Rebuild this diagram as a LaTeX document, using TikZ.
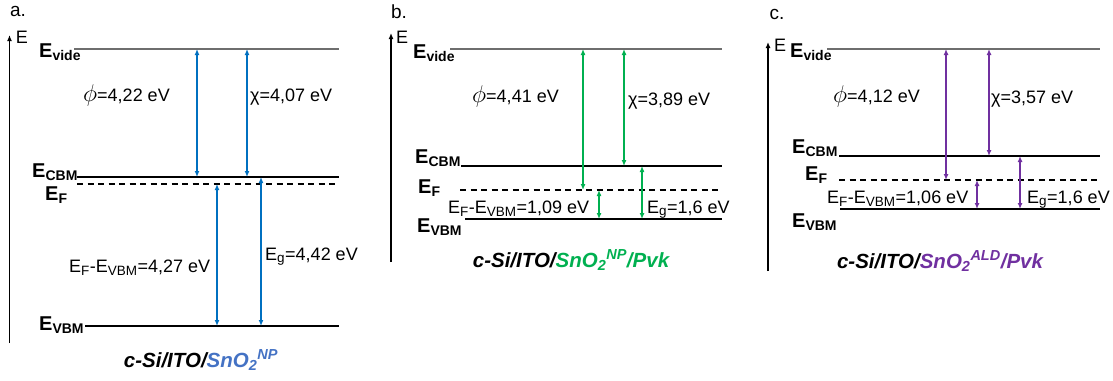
\documentclass[tikz,border=0pt]{standalone}
\usepackage{fontspec}
\setmainfont{Liberation Sans}
\usetikzlibrary{arrows.meta}
\DeclareMathSizes{18}{18}{13.5}{10}
\DeclareMathSizes{20.5}{20.5}{14.5}{11}
\definecolor{bluearr}{HTML}{0070C0}
\definecolor{bluecap}{HTML}{4472C4}
\definecolor{greenarr}{HTML}{00B050}
\definecolor{purplearr}{HTML}{7030A0}
\definecolor{vacgray}{HTML}{6E6E6E}
\newcommand{\wf}{\scalebox{1.4}{$\phi$}}

\begin{document}
\begin{tikzpicture}[x=1pt,y=-1pt,>={Latex[length=6pt,width=5pt]},
  vac/.style={line width=1.1pt,vacgray},
  level/.style={line width=1.3pt},
  fermi/.style={line width=1.3pt,dash pattern=on 6pt off 4.5pt},
  gap/.style={<->,line width=1.5pt},
  axis/.style={->,line width=1.3pt},
  lvl/.style={anchor=base west,inner sep=0pt,font=\fontsize{20}{24}\selectfont\bfseries},
  val/.style={anchor=base west,inner sep=0pt,font=\fontsize{18}{22}\selectfont},
  stack/.style={anchor=base,inner sep=0pt,font=\fontsize{20.5}{24}\selectfont\bfseries\itshape},
  tag/.style={inner sep=0pt,font=\fontsize{19}{23}\selectfont},
  axlbl/.style={inner sep=0pt,font=\fontsize{18}{21}\selectfont}]
  \useasboundingbox (0,0) rectangle (1113,380);

  % a.
  \node[tag] (aTag) at (18,11) {a.};
  \coordinate (aAxB) at (9.5,343);
  \coordinate (aAxT) at (9.5,35);
  \draw[axis] (aAxB) -- (aAxT);
  \node[axlbl] (aE) at (22,37) {E};

  \coordinate (aVacL) at (74,49);  \coordinate (aVacR) at (339,49);
  \coordinate (aCBML) at (77,177); \coordinate (aCBMR) at (339,177);
  \coordinate (aFL)   at (77,184); \coordinate (aFR)   at (339,184);
  \coordinate (aVBML) at (85,326); \coordinate (aVBMR) at (339,326);
  \draw[vac]   (aVacL) -- (aVacR);
  \draw[level] (aCBML) -- (aCBMR);
  \draw[fermi] (aFL) -- (aFR);
  \draw[level] (aVBML) -- (aVBMR);

  \node[lvl] (aVacT) at (39,57)  {E\textsubscript{vide}};
  \node[lvl] (aCBMT) at (32,177) {E\textsubscript{CBM}};
  \node[lvl] (aFT)   at (45,200) {E\textsubscript{F}};
  \node[lvl] (aVBMT) at (39,330) {E\textsubscript{VBM}};

  \coordinate (aPhi) at (197,0);
  \coordinate (aChi) at (247,0);
  \coordinate (aFV)  at (217,0);
  \coordinate (aGap) at (261,0);
  \draw[gap,bluearr] (aPhi |- aVacL) -- (aPhi |- aCBML);
  \draw[gap,bluearr] (aChi |- aVacL) -- (aChi |- aCBML);
  \draw[gap,bluearr] (aFV |- aFL) -- (aFV |- aVBML);
  \draw[gap,bluearr] (aGap |- aCBML) -- (aGap |- aVBML);

  \node[val] (aPhiT) at (83,101)  {\wf=4,22 eV};
  \node[val] (aChiT) at (250,101) {χ=4,07 eV};
  \node[val] (aFVT)  at (69,272)  {E\textsubscript{F}-E\textsubscript{VBM}=4,27 eV};
  \node[val] (aGapT) at (265,260) {E\textsubscript{g}=4,42 eV};

  \node[stack] (aStack) at (201,367) {c-Si/ITO/\textcolor{bluecap}{SnO\textsubscript{2}\textsuperscript{NP}}};

  % b.
  \node[tag] (bTag) at (399,12) {b.};
  \coordinate (bAxB) at (391,262);
  \coordinate (bAxT) at (391,33);
  \draw[axis] (bAxB) -- (bAxT);
  \node[axlbl] (bE) at (402,37) {E};

  \coordinate (bVacL) at (450,49);  \coordinate (bVacR) at (722,49);
  \coordinate (bCBML) at (461,166); \coordinate (bCBMR) at (722,166);
  \coordinate (bFL)   at (460,190); \coordinate (bFR)   at (722,190);
  \coordinate (bVBML) at (465,219); \coordinate (bVBMR) at (722,219);
  \draw[vac]   (bVacL) -- (bVacR);
  \draw[level] (bCBML) -- (bCBMR);
  \draw[fermi] (bFL) -- (bFR);
  \draw[level] (bVBML) -- (bVBMR);

  \node[lvl] (bVacT) at (413,58)  {E\textsubscript{vide}};
  \node[lvl] (bCBMT) at (415,163) {E\textsubscript{CBM}};
  \node[lvl] (bFT)   at (418,193) {E\textsubscript{F}};
  \node[lvl] (bVBMT) at (417,232) {E\textsubscript{VBM}};

  \coordinate (bPhi) at (583,0);
  \coordinate (bChi) at (624,0);
  \coordinate (bFV)  at (599,0);
  \coordinate (bGap) at (642,0);
  \draw[gap,greenarr] (bPhi |- bVacL) -- (bPhi |- bFL);
  \draw[gap,greenarr] (bChi |- bVacL) -- (bChi |- bCBML);
  \draw[gap,greenarr] (bFV |- bFL) -- (bFV |- bVBML);
  \draw[gap,greenarr] (bGap |- bCBML) -- (bGap |- bVBML);

  \node[val] (bPhiT) at (472,102) {\wf=4,41 eV};
  \node[val] (bChiT) at (628,105) {χ=3,89 eV};
  \node[val] (bFVT)  at (448,213) {E\textsubscript{F}-E\textsubscript{VBM}=1,09 eV};
  \node[val] (bGapT) at (647,213) {E\textsubscript{g}=1,6 eV};

  \node[stack] (bStack) at (571,267) {c-Si/ITO/\textcolor{greenarr}{SnO\textsubscript{2}\textsuperscript{NP}/Pvk}};

  % c.
  \node[tag] (cTag) at (777,14) {c.};
  \coordinate (cAxB) at (768,271);
  \coordinate (cAxT) at (768,42);
  \draw[axis] (cAxB) -- (cAxT);
  \node[axlbl] (cE) at (780,45) {E};

  \coordinate (cVacL) at (827,49);  \coordinate (cVacR) at (1100,49);
  \coordinate (cCBML) at (839,156); \coordinate (cCBMR) at (1100,156);
  \coordinate (cFL)   at (839,180); \coordinate (cFR)   at (1100,180);
  \coordinate (cVBML) at (840,209); \coordinate (cVBMR) at (1100,209);
  \draw[vac]   (cVacL) -- (cVacR);
  \draw[level] (cCBML) -- (cCBMR);
  \draw[fermi] (cFL) -- (cFR);
  \draw[level] (cVBML) -- (cVBMR);

  \node[lvl] (cVacT) at (790,57)  {E\textsubscript{vide}};
  \node[lvl] (cCBMT) at (792,153) {E\textsubscript{CBM}};
  \node[lvl] (cFT)   at (805,180) {E\textsubscript{F}};
  \node[lvl] (cVBMT) at (792,227) {E\textsubscript{VBM}};

  \coordinate (cPhi) at (946,0);
  \coordinate (cChi) at (989,0);
  \coordinate (cFV)  at (977,0);
  \coordinate (cGap) at (1020,0);
  \draw[gap,purplearr] (cPhi |- cVacL) -- (cPhi |- cFL);
  \draw[gap,purplearr] (cChi |- cVacL) -- (cChi |- cCBML);
  \draw[gap,purplearr] (cFV |- cFL) -- (cFV |- cVBML);
  \draw[gap,purplearr] (cGap |- cCBML) -- (cGap |- cVBML);

  \node[val] (cPhiT) at (833,102)  {\wf=4,12 eV};
  \node[val] (cChiT) at (991,103)  {χ=3,57 eV};
  \node[val] (cFVT)  at (827,203)  {E\textsubscript{F}-E\textsubscript{VBM}=1,06 eV};
  \node[val] (cGapT) at (1027,203) {E\textsubscript{g}=1,6 eV};

  \node[stack] (cStack) at (940,268) {c-Si/ITO/\textcolor{purplearr}{SnO\textsubscript{2}\textsuperscript{ALD}/Pvk}};
\end{tikzpicture}
\end{document}
